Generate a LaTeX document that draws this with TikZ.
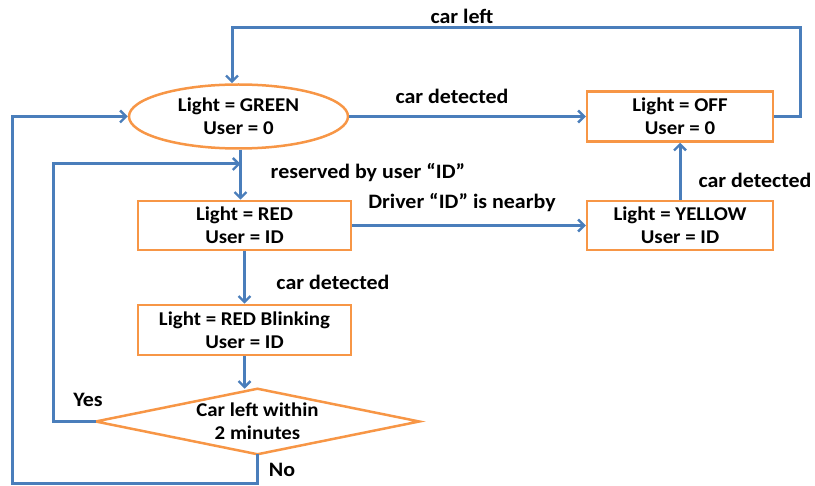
\documentclass[tikz,border=0pt]{standalone}
\usepackage{fontspec}
\setmainfont{Carlito}[FakeStretch=1.07]
\usetikzlibrary{shapes.geometric,arrows.meta}
\definecolor{lineblue}{HTML}{4A7EBB}
\definecolor{boxorange}{HTML}{F79646}
\tikzset{
  state/.style={draw=boxorange, line width=2.5pt, align=center, inner sep=0pt,
    font=\fontsize{19.5}{23}\selectfont\bfseries},
  statebox/.style={state, rectangle},
  arr/.style={draw=lineblue, line width=3pt,
    -{Straight Barb[length=6pt,width=12pt,line width=2.4pt]}},
  lbl/.style={font=\fontsize{20.5}{23}\selectfont\bfseries, inner sep=0pt}
}
\begin{document}
\begin{tikzpicture}[x=1pt,y=-1pt]
\useasboundingbox (0,0) rectangle (815,486);
% nodes
\node[state, ellipse, minimum width=219pt, minimum height=64pt] (green) at (238.5,116.5) {Light = GREEN\\User = 0};
\node[statebox, minimum width=186pt, minimum height=50pt] (off) at (680,116.5) {Light = OFF\\User = 0};
\node[statebox, minimum width=213pt, minimum height=49pt] (red) at (244.5,225.5) {Light = RED\\User = ID};
\node[statebox, minimum width=186pt, minimum height=49pt] (yellow) at (680,225.5) {Light = YELLOW\\User = ID};
\node[statebox, minimum width=213pt, minimum height=50pt] (blink) at (244.5,330) {Light = RED Blinking\\User = ID};
\node[state, draw=none, rectangle, minimum width=321pt, minimum height=63pt] (dia) at (257.5,421.5) {Car left within\\2 minutes};
\draw[draw=boxorange, line width=2.5pt, line join=miter] (dia.north) -- (dia.east) -- (dia.south) -- (dia.west) -- cycle;
% helper coordinates
\coordinate (j) at (240.5,164);
\coordinate (yl) at (53,164);
\coordinate (tr) at (800,28);
\coordinate (tl) at (232,28);
\coordinate (bl) at (12,484);
% connectors
\draw[arr] (green.east) -- (off.west);
\draw[arr] (off.east) -| (tr) -- (tl) -- (tl |- green.north);
\draw[arr] (green.south -| j) -- (red.north -| j);
\draw[arr] (dia.west) -| (yl) -- (j);
\draw[arr] (red.east) -- (yellow.west);
\draw[arr] (yellow.north) -- (off.south);
\draw[arr] (red.south) -- (blink.north);
\draw[arr] (blink.south) -- (blink.south |- dia.north);
\draw[arr] (dia.south) |- (bl) |- (green.west);
% labels
\node[lbl] (l1) at (462,16) {car left};
\node[lbl] (l2) at (452,96) {car detected};
\node[lbl] (l3) at (368,173) {reserved by user “ID”};
\node[lbl] (l4) at (462,203) {Driver “ID” is nearby};
\node[lbl] (l5) at (755,180) {car detected};
\node[lbl] (l6) at (333,282) {car detected};
\node[lbl] (l7) at (88,400) {Yes};
\node[lbl] (l8) at (282,470) {No};
\end{tikzpicture}
\end{document}
